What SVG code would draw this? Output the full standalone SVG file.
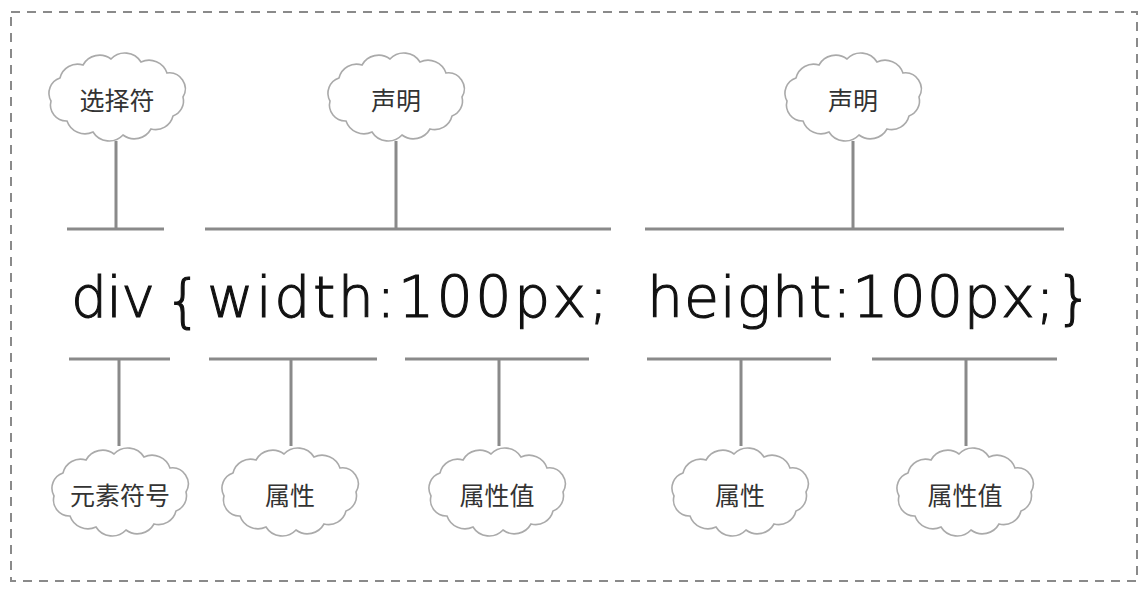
<svg xmlns="http://www.w3.org/2000/svg" width="1144" height="589" viewBox="0 0 1144 589">
<style>
.cloud{fill:#fff;stroke:#aaa;stroke-width:1.6}
.lbl{font-family:"Noto Sans CJK SC","Noto Sans",sans-serif;font-size:25px;fill:#333;text-anchor:middle;dominant-baseline:central}
.code{font-family:"DejaVu Sans","Liberation Sans",sans-serif;font-size:57px;font-weight:300;fill:#111;stroke:#111;stroke-width:1.1}
.ln{stroke:#8a8a8a;stroke-width:3;fill:none}
</style>
<defs>
<path id="cl" d="M66,0 A16,16 0 0 1 56,19 A18,18 0 0 1 34,32 A19,19 0 0 1 6,38 A19,19 0 0 1 -24,35 A19,19 0 0 1 -50,24 A16,16 0 0 1 -66,4 A16,16 0 0 1 -57,-19 A18,18 0 0 1 -34,-32 A19,19 0 0 1 -6,-38 A19,19 0 0 1 24,-35 A19,19 0 0 1 50,-24 A16,16 0 0 1 66,0 Z"/>
</defs>
<rect x="11" y="12" width="1126" height="569" fill="none" stroke="#8a8a8a" stroke-width="2" stroke-dasharray="9 7"/>
<g id="connectors">
<path class="ln" d="M67,229 H164 M116,141 V229"/>
<path class="ln" d="M205,229 H611 M396,141 V229"/>
<path class="ln" d="M645,229 H1064 M853,141 V229"/>
<path class="ln" d="M69,359 H170 M119,359 V446"/>
<path class="ln" d="M209,359 H377 M291,359 V446"/>
<path class="ln" d="M405,359 H589 M499,359 V446"/>
<path class="ln" d="M647,359 H831 M741,359 V446"/>
<path class="ln" d="M872,359 H1057 M966,359 V446"/>
</g>
<g id="code">
<text class="code" x="71" y="317" textLength="84" lengthAdjust="spacing">div</text>
<text class="code" x="165" y="320">{</text>
<text class="code" x="207" y="317" textLength="401" lengthAdjust="spacing">width:100px;</text>
<text class="code" x="647" y="317" textLength="445" lengthAdjust="spacing">height:100px;}</text>
</g>
<g id="n-selector"><use href="#cl" class="cloud" transform="translate(117,97)"/><text class="lbl" x="117" y="99">选择符</text></g>
<g id="n-decl1"><use href="#cl" class="cloud" transform="translate(396,97)"/><text class="lbl" x="396" y="99">声明</text></g>
<g id="n-decl2"><use href="#cl" class="cloud" transform="translate(853,97)"/><text class="lbl" x="853" y="99">声明</text></g>
<g id="n-elem"><use href="#cl" class="cloud" transform="translate(120,492)"/><text class="lbl" x="120" y="494">元素符号</text></g>
<g id="n-prop1"><use href="#cl" class="cloud" transform="translate(290,492)"/><text class="lbl" x="290" y="494">属性</text></g>
<g id="n-val1"><use href="#cl" class="cloud" transform="translate(497,492)"/><text class="lbl" x="497" y="494">属性值</text></g>
<g id="n-prop2"><use href="#cl" class="cloud" transform="translate(740,492)"/><text class="lbl" x="740" y="494">属性</text></g>
<g id="n-val2"><use href="#cl" class="cloud" transform="translate(965,492)"/><text class="lbl" x="965" y="494">属性值</text></g>
</svg>
